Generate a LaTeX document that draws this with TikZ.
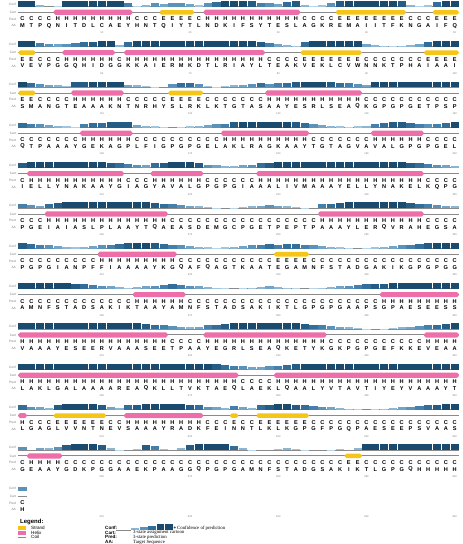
\documentclass[tikz,border=0pt]{standalone}
\usepackage{fontspec}
\setmainfont{Liberation Serif}
\newfontfamily\lsans{Liberation Sans}
\definecolor{helixc}{HTML}{EE6EAA}
\definecolor{strandc}{HTML}{F5C518}
\definecolor{coilc}{HTML}{8A8A8A}
\definecolor{c1}{HTML}{B8D4E8}
\definecolor{c2}{HTML}{A2C5DE}
\definecolor{c3}{HTML}{8AB5D3}
\definecolor{c4}{HTML}{72A4C7}
\definecolor{c5}{HTML}{5A92BA}
\definecolor{c6}{HTML}{4580AC}
\definecolor{c7}{HTML}{336E9A}
\definecolor{c8}{HTML}{255C85}
\definecolor{c9}{HTML}{1A4A6E}
\newcount\ri \newcount\rs
\def\sx{8.82}\def\xo{22.5}\def\blk{0}
\def\hch{H}\def\ech{E}
\def\confrow#1{\ri=0 \confloop#1\relax}
\def\confloop#1{\ifx#1\relax\else
  \ifnum#1>0 \fill[c#1] ({\xo+(\the\ri-0.5)*\sx+0.3},{\blk+6.6}) rectangle ({\xo+(\the\ri+0.5)*\sx-0.3},{\blk+6.6-0.64*#1});\fi
  \advance\ri by 1 \expandafter\confloop\fi}
\def\closerun{%
  \ifx\prevc\hch\fill[helixc,rounded corners=1.8] ({\xo+(\the\rs-0.5)*\sx+0.3},{\blk+9.7}) rectangle ({\xo+(\the\ri-0.5)*\sx-0.3},{\blk+14.9});\fi
  \ifx\prevc\ech\fill[strandc,rounded corners=1.8] ({\xo+(\the\rs-0.5)*\sx+0.3},{\blk+10}) rectangle ({\xo+(\the\ri-0.5)*\sx-0.3},{\blk+14.6});\fi}
\def\predrow#1{\ri=0 \rs=0 \def\prevc{X}\predloop#1\relax}
\def\predloop#1{\def\curc{#1}%
  \ifx\curc\prevc\else\closerun\rs=\ri\relax\let\prevc\curc\fi
  \ifx#1\relax\else
    \node[predt] at ({\xo+\the\ri*\sx},{\blk+19}) {#1};%
    \advance\ri by 1 \expandafter\predloop\fi}
\def\aarow#1{\ri=0 \aaloop#1\relax}
\def\aaloop#1{\ifx#1\relax\else
    \node[aat] at ({\xo+\the\ri*\sx},{\blk+25.6}) {#1};%
    \advance\ri by 1 \expandafter\aaloop\fi}
\newcommand\seqblock[5]{%
  \pgfmathsetmacro\blk{40.33*#1}%
  \node[side] at (16,{\blk+4}) {Conf};
  \node[side] at (16,{\blk+12.3}) {Cart};
  \node[side] at (16,{\blk+19}) {Pred};
  \node[side] at (16,{\blk+25.6}) {AA};
  \draw[coilc,line width=0.5] ({\xo-0.5*\sx},{\blk+6.4}) -- ({\xo+(#2-0.5)*\sx},{\blk+6.4});
  \draw[coilc,line width=0.9] ({\xo-0.5*\sx},{\blk+12.3}) -- ({\xo+(#2-0.5)*\sx},{\blk+12.3});
  \confrow{#3}\predrow{#4}\aarow{#5}%
  \foreach \j in {1,...,5}{\pgfmathtruncatemacro\nn{50*#1+10*\j}\node[numt] at ({\xo+(10*\j-1)*\sx},{\blk+33}) {\nn};}%
}
\begin{document}
\begin{tikzpicture}[x=1pt,y=-1pt,
  predt/.style={font=\lsans\bfseries\fontsize{5.6}{6}\selectfont,inner sep=0pt,anchor=center},
  aat/.style={font=\lsans\bfseries\fontsize{5.6}{6}\selectfont,inner sep=0pt,anchor=center},
  side/.style={font=\lsans\fontsize{3.2}{3.5}\selectfont,text=gray,inner sep=0pt,anchor=east},
  numt/.style={font=\lsans\fontsize{2.6}{3}\selectfont,text=gray,inner sep=0pt},
  key/.style={font=\lsans\bfseries\fontsize{4.6}{5}\selectfont,inner sep=0pt,anchor=west},
  desc/.style={font=\fontsize{4.8}{5}\selectfont,inner sep=0pt,anchor=west}]
\fill[white] (0,0) rectangle (463,544);
\useasboundingbox (0,0) rectangle (463,544);
\seqblock{0}{50}{99301999999961354554257999865478312589999998312799}{CCCCHHHHHHHHHCCCEEEECHHHHHHHHHHHCCCCEEEEEEEECCCEEE}{MTPQNITDLCAEYHNTQIYTLNDKIFSYTESLAGKREMAIITFKNGAIFQ}
\seqblock{1}{50}{99654567899379999999999999986432799999943212347999}{EECCCHHHHHHCHHHHHHHHHHHHHHHHCCCCEEEEEEECCCCCCCEEEE}{VEVPGGQHIDGGKKAIERMKDTLRIAYLTEAKVEKLCVWNNKTPHAIAAI}
\seqblock{2}{50}{97543288999943210577521234575678999876549999999999}{EECCCCHHHHHHCCCCCEEEECCCCCCCHHHHHHHHHHHCCCCCCCCCCC}{SMANGTEAAAKNTNRHYSLRKLKTGTASAAYESRLSEAQKGPGPGETPSP}
\seqblock{3}{50}{76543216778884321012345689999998754321236788765679}{CCCCCCCHHHHHHCCCCCCCCCCHHHHHHHHHHCCCCCCCHHHHHHCCCC}{QTPAAAYGEKAGPLFIGPGPGELAKLRAGKAAYTGTAGVAVALGPGPGEL}
\seqblock{4}{50}{89999999998765478999854334578999999999999999876543}{CHHHHHHHHHHHCCCHHHHHHCCCCCCHHHHHHHHHHHHHHHHHHHCCCC}{IELLYNAKAAYGIAGYAVALGPGPGIAAALIVMAAAYELLYNAKELKQPG}
\seqblock{5}{50}{65478999999999987654321012345432106789999999876543}{CCCHHHHHHHHHHHHHHCCCCCCCCCCCCCCCCCHHHHHHHHHHHHCCCC}{PGEIAIASLPLAAYTQAEASDEMGCPGETPEPTPAAAYLERQVRAHEGSA}
\seqblock{6}{50}{87654323456789987654321234567677654321012345678999}{CCCCCCCCCHHHHHHHHHCCCCCCCCCCCEEEECCCCCCCCCCCCCCCCC}{PGPGIANPFFIAAAAYKGQAFQAGTKAATEGAMNFSTADGAKIKGPGPGG}
\seqblock{7}{50}{99999987654323456765432101234321012345678899999999}{CCCCCCCCCCCCCHHHHHHCCCCCCCCCCCCCCCCCCCCCCHHHHHHHHH}{AMNFSTADSAKIKTAAYAMNFSTADSAKIKTLGPGPGAAPSGPAESEESS}
\seqblock{8}{50}{99999999999999876543467899999999876543210123456789}{HHHHHHHHHHHHHHHHHCCCCHHHHHHHHHHHHHHCCCCCCCCCCCHHHH}{VAAAYESEERVAAASEETPAAYEGRLSEAQKETYKGKPGPGEFKKEVEAA}
\seqblock{9}{50}{99999999999999999999998765445678999999999999999999}{HHHHHHHHHHHHHHHHHHHHHHHHHCCCCHHHHHHHHHHHHHHHHHHHHH}{LAKLGALAAAAREAQKLLTVKTAEQLAEKLQAALYVTAVTIYEYVAAAYT}
\seqblock{10}{50}{75438999984378999998754364378998765432101234567899}{HCCCEEEEEECCHHHHHHHHHCCCECCEEEEEECCCCCCCCCCCCCCCCC}{LGAGLVVNTNEVSAAAYRADKFEINNTLKLKGPGFPGQPAESEEPSVAAS}
\seqblock{11}{50}{50435899983102862038999973100232100120399999999999}{CHHHHCCCCCCCCCCCCCCCCCCCCCCCCCCCCCCCCEECCCCCCCCCCC}{GEAAYGDKPGGAAEKPAAGGQPGPGAMNFSTADGSAKIKTLGPGQHHHHH}
\seqblock{12}{1}{5}{C}{H}
% legend
\node[key,font=\lsans\bfseries\fontsize{6}{7}\selectfont] (lg) at (20,521.7) {Legend:};
\fill[strandc] (18,525.6) rectangle (25.5,530.4);
\fill[helixc] (18,530.6) rectangle (25.5,535.2);
\draw[coilc,line width=1.2] (18,537.4) -- (25.5,537.4);
\node[key,font=\lsans\fontsize{4.6}{5}\selectfont] (ls) at (31,528) {Strand};
\node[key,font=\lsans\fontsize{4.6}{5}\selectfont] (lh) at (31,532.7) {Helix};
\node[key,font=\lsans\fontsize{4.6}{5}\selectfont] (lc) at (31,537.2) {Coil};
\node[key] (kc) at (105,528) {Conf:};
\node[key] (ka) at (105,532.7) {Cart:};
\node[key] (kp) at (105,537.3) {Pred:};
\node[key] (kaa) at (105,542) {AA:};
\node[key,font=\lsans\bfseries\fontsize{4.6}{5}\selectfont] (mn) at (113,528) {-};
\draw[coilc,line width=0.5] (116,529.8) -- (131,529.8);
\foreach \h [count=\i] in {3,5,7,9,9}{\fill[c\h] ({131+(\i-1)*8.4+0.3},529.8) rectangle ({131+\i*8.4-0.3},{529.8-0.6*\h});}
\node[key] (pl) at (173.5,528) {+};
\node[desc] (d1) at (177,528) {Confidence of prediction};
\node[desc] (d2) at (133,532.7) {3-state assignment cartoon};
\node[desc] (d3) at (133,537.3) {3-state prediction};
\node[desc] (d4) at (133,542) {Target Sequence};
\end{tikzpicture}
\end{document}
